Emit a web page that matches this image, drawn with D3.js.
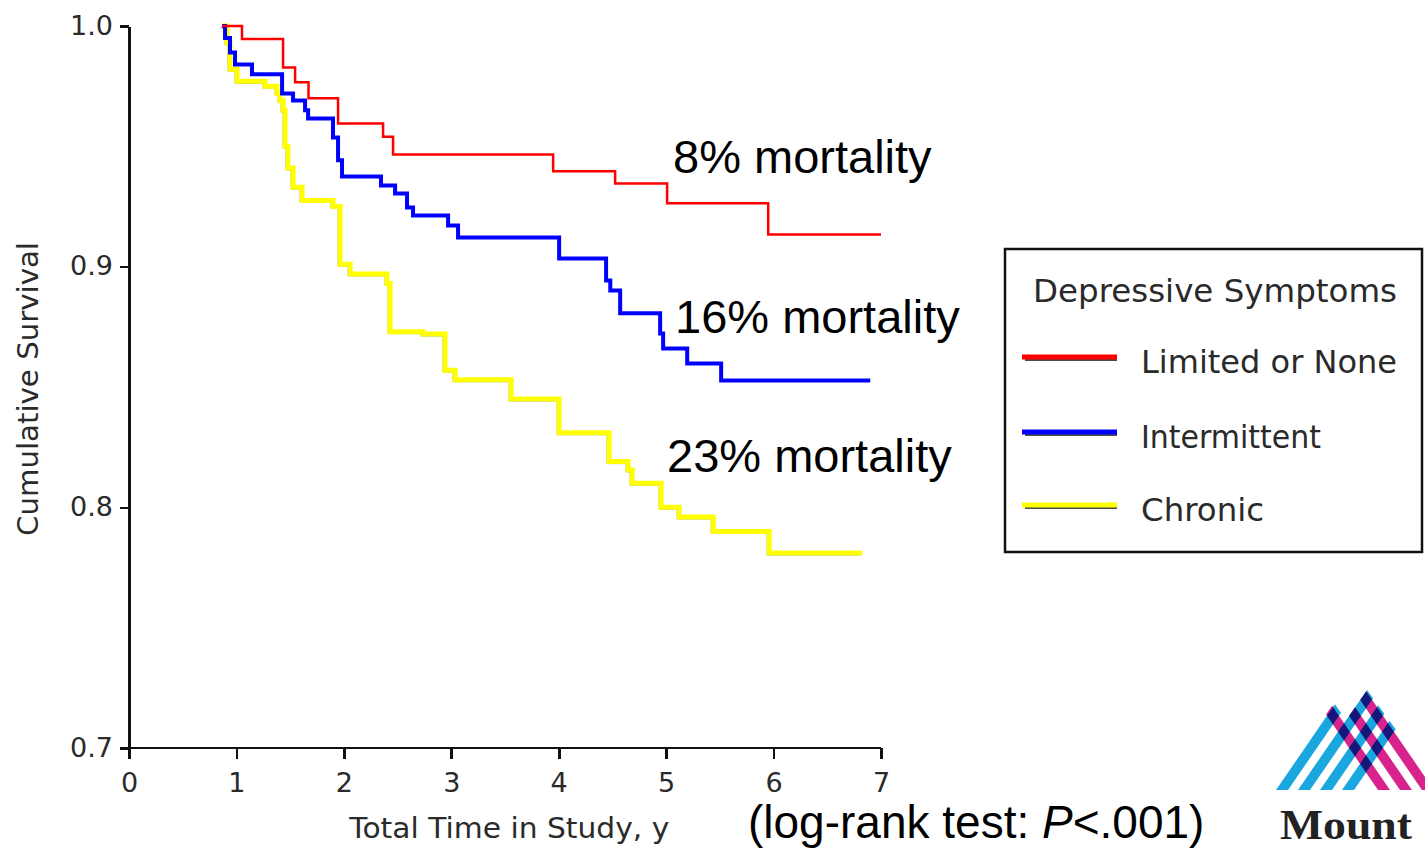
<!DOCTYPE html>
<html>
<head>
<meta charset="utf-8">
<script src="https://cdn.jsdelivr.net/npm/d3@7"></script>
<style>
  html, body { margin: 0; padding: 0; background: #fff; }
  svg { display: block; }
  .axis path, .axis line { stroke: #111; stroke-width: 2.6; shape-rendering: crispEdges; }
  .axis text { font-family: "DejaVu Sans", sans-serif; font-size: 27px; fill: #2a2a2a; }
</style>
</head>
<body>
<svg id="chart" width="1425" height="849"></svg>
<script>
// Kaplan-Meier survival by depressive-symptom group (time in years, cumulative survival)
const limitedTime = [0.866, 1.052, 1.434, 1.546, 1.671, 1.946, 2.365, 2.458, 3.948, 4.525, 5.009, 5.95, 7.0];
const limitedSurv = [1.0, 0.9946, 0.9828, 0.9766, 0.970, 0.9595, 0.954, 0.9466, 0.9396, 0.9346, 0.9263, 0.9134, 0.9134];

const intermittentTime = [0.866, 0.894, 0.94, 0.987, 1.145, 1.425, 1.527, 1.639, 1.667, 1.899, 1.946, 1.983, 2.346, 2.477, 2.588, 2.644, 2.97, 3.063, 4.004, 4.441, 4.48, 4.572, 4.944, 4.972, 5.196, 5.512, 6.9];
const intermittentSurv = [1.0, 0.995, 0.989, 0.984, 0.980, 0.972, 0.969, 0.965, 0.9616, 0.9537, 0.9442, 0.9375, 0.9337, 0.9304, 0.9246, 0.9213, 0.9171, 0.9121, 0.9034, 0.8943, 0.8901, 0.8806, 0.8722, 0.866, 0.8598, 0.8527, 0.8527];

const chronicTime = [0.866, 0.912, 0.94, 1.006, 1.266, 1.378, 1.406, 1.434, 1.453, 1.48, 1.527, 1.611, 1.899, 1.965, 2.058, 2.402, 2.43, 2.737, 2.942, 3.035, 3.557, 4.004, 4.469, 4.646, 4.683, 4.953, 5.121, 5.438, 5.959, 6.825];
const chronicSurv = [1.0, 0.993, 0.982, 0.977, 0.975, 0.972, 0.969, 0.965, 0.950, 0.941, 0.933, 0.9275, 0.925, 0.901, 0.897, 0.893, 0.873, 0.872, 0.857, 0.853, 0.845, 0.831, 0.819, 0.8155, 0.810, 0.800, 0.796, 0.790, 0.781, 0.781];

const groupNames = ["Limited or None", "Intermittent", "Chronic"];
const groupColors = ["#ff0000", "#0000ff", "#ffff00"];
const mortalityLabels = ["8% mortality", "16% mortality", "23% mortality"];

const xTicks = [0, 1, 2, 3, 4, 5, 6, 7];
const yTicks = [0.7, 0.8, 0.9, 1.0];

const svg = d3.select("#chart");

const x = d3.scaleLinear().domain([0, 7]).range([129, 881]);
const y = d3.scaleLinear().domain([0.7, 1.0]).range([748, 26]);

// axes
svg.append("g").attr("class", "axis x-axis")
  .attr("transform", "translate(0,748)")
  .call(d3.axisBottom(x).tickValues(xTicks).tickFormat(d3.format("d")).tickSize(11).tickSizeOuter(0).tickPadding(14))
  .call(g => g.select(".domain").attr("d", `M120,0H${x(7)}`))
  .call(g => g.selectAll(".tick text").attr("dy", "0.71em"));

svg.append("g").attr("class", "axis y-axis")
  .attr("transform", "translate(129,0)")
  .call(d3.axisLeft(y).tickValues(yTicks).tickFormat(d3.format(".1f")).tickSize(9).tickSizeOuter(0).tickPadding(7))
  .call(g => g.selectAll(".tick text").attr("dy", "0.3em"));

svg.append("text")
  .attr("x", x(3.54)).attr("y", 838)
  .attr("text-anchor", "middle")
  .attr("textLength", 320).attr("lengthAdjust", "spacingAndGlyphs")
  .style("font-family", "DejaVu Sans, sans-serif").style("font-size", "28px").style("fill", "#2a2a2a")
  .text("Total Time in Study, y");

svg.append("text")
  .attr("transform", "translate(38,389) rotate(-90)")
  .attr("text-anchor", "middle")
  .attr("textLength", 294).attr("lengthAdjust", "spacingAndGlyphs")
  .style("font-family", "DejaVu Sans, sans-serif").style("font-size", "29px").style("fill", "#2a2a2a")
  .text("Cumulative Survival");

// survival curves
const series = [
  { time: limitedTime, surv: limitedSurv, width: 2.5 },
  { time: intermittentTime, surv: intermittentSurv, width: 4 },
  { time: chronicTime, surv: chronicSurv, width: 5 }
];
const line = d3.line().x(d => x(d[0])).y(d => y(d[1])).curve(d3.curveStepAfter);

// faint dark edge under the chronic curve
svg.append("path")
  .attr("d", line(d3.zip(chronicTime, chronicSurv)))
  .attr("transform", "translate(-2,2)")
  .attr("fill", "none").attr("stroke", "#777").attr("stroke-width", 1).attr("opacity", 0.7);

for (let i = series.length - 1; i >= 0; i--) {
  const s = series[i];
  svg.append("path")
    .attr("d", line(d3.zip(s.time, s.surv)))
    .attr("fill", "none")
    .attr("stroke", groupColors[i])
    .attr("stroke-width", s.width)
    .attr("stroke-linejoin", "miter");
}

// mortality annotations
const annoPos = [[673, 173], [675, 333], [667, 472]];
mortalityLabels.forEach((t, i) => {
  svg.append("text")
    .attr("x", annoPos[i][0]).attr("y", annoPos[i][1])
    .style("font-family", "Liberation Sans, Arial, sans-serif").style("font-size", "47px").style("fill", "#000")
    .text(t);
});

// log-rank note
const note = svg.append("text")
  .attr("x", 748).attr("y", 838)
  .style("font-family", "Liberation Sans, Arial, sans-serif").style("font-size", "46px").style("fill", "#000");
note.append("tspan").text("(log-rank test: ");
note.append("tspan").style("font-style", "italic").text("P");
note.append("tspan").text("<.001)");

// legend
const lg = svg.append("g");
lg.append("rect").attr("x", 1005).attr("y", 249).attr("width", 417).attr("height", 303)
  .attr("fill", "#fff").attr("stroke", "#111").attr("stroke-width", 2.5);
lg.append("text").attr("x", 1033).attr("y", 302)
  .attr("textLength", 364).attr("lengthAdjust", "spacingAndGlyphs")
  .style("font-family", "DejaVu Sans, sans-serif").style("font-size", "32px").style("fill", "#2a2a2a")
  .text("Depressive Symptoms");
const legY = [357, 432, 505];
const labW = [256, 180, 123];
groupNames.forEach((n, i) => {
  lg.append("line").attr("x1", 1025).attr("x2", 1117).attr("y1", legY[i] + 3).attr("y2", legY[i] + 3)
    .attr("stroke", "#111").attr("stroke-width", 1.5);
  lg.append("line").attr("x1", 1022).attr("x2", 1117).attr("y1", legY[i]).attr("y2", legY[i])
    .attr("stroke", groupColors[i]).attr("stroke-width", 5);
  lg.append("text").attr("x", 1141).attr("y", legY[i] + 16)
    .attr("textLength", labW[i]).attr("lengthAdjust", "spacingAndGlyphs")
    .style("font-family", "DejaVu Sans, sans-serif").style("font-size", "32px").style("fill", "#2a2a2a")
    .text(n);
});

// institutional mark: interlaced stripes forming two peaks
const logo = svg.append("g");
const defs = svg.append("defs");
defs.append("clipPath").attr("id", "peaks").append("polygon")
  .attr("points", "1274,790 1334,703 1346,720 1367,690 1440,790");
const stripes = logo.append("g").attr("clip-path", "url(#peaks)");
const stripeSlope = 0.687, stripeBottom = 790, stripeTop = 670, stripeW = 12;
const stripeDx = stripeSlope * (stripeBottom - stripeTop);
[1276, 1298, 1320, 1342].forEach(bx => {
  stripes.append("polygon")
    .attr("points", `${bx},${stripeBottom} ${bx + stripeW},${stripeBottom} ${bx + stripeW + stripeDx},${stripeTop} ${bx + stripeDx},${stripeTop}`)
    .attr("fill", "#1aa7e0");
});
[1378, 1400, 1422, 1444].forEach(bx => {
  stripes.append("polygon")
    .attr("points", `${bx},${stripeBottom} ${bx + stripeW},${stripeBottom} ${bx + stripeW - stripeDx},${stripeTop} ${bx - stripeDx},${stripeTop}`)
    .attr("fill", "#d8228c").style("mix-blend-mode", "multiply");
});
logo.append("text").attr("x", 1280).attr("y", 839)
  .attr("textLength", 132).attr("lengthAdjust", "spacingAndGlyphs")
  .style("font-family", "Liberation Serif, serif").style("font-weight", "bold").style("font-size", "42px").style("fill", "#222")
  .text("Mount");
</script>
</body>
</html>
